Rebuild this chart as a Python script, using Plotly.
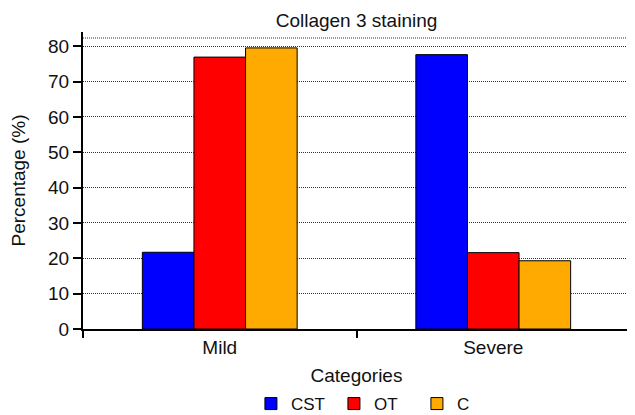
import plotly.graph_objects as go

categories = ["Mild", "Severe"]
series_names = ["CST", "OT", "C"]
cst = [21.7, 77.6]
ot = [76.9, 21.6]
c = [79.5, 19.3]
colors = ["#0000ff", "#ff0000", "#ffaa00"]
yticks = [0, 10, 20, 30, 40, 50, 60, 70, 80]
top_grid_value = 82.3

fig = go.Figure()
for name, vals, col in zip(series_names, [cst, ot, c], colors):
    fig.add_trace(go.Bar(x=categories, y=vals, name=name, marker_color=col,
                         marker_line_color="#000000", marker_line_width=1))

fig.update_layout(
    width=627, height=407,
    margin=dict(l=75, r=5, t=24, b=86, autoexpand=False),
    paper_bgcolor="white", plot_bgcolor="white",
    font=dict(family="Liberation Sans, Arial, sans-serif", size=19, color="#111"),
    title=dict(text="Collagen 3 staining", x=0.5, xref="paper", xanchor="center",
               y=1, yref="container", yanchor="top", pad=dict(t=6), font=dict(size=19)),
    barmode="group", bargap=0.434, bargroupgap=0,
    showlegend=True,
    legend=dict(orientation="h", x=0.307, xanchor="left", y=-0.192, yanchor="top",
                font=dict(size=17), traceorder="normal",
                entrywidth=38, entrywidthmode="pixels"),
    xaxis=dict(title=dict(text="Categories", standoff=12, font=dict(size=19)),
               showline=True, linecolor="black", linewidth=2,
               ticks="outside", tickson="boundaries", ticklen=7, tickwidth=2, tickcolor="black",
               ticklabelstandoff=0, showgrid=False, automargin=False),
    yaxis=dict(title=dict(text="Percentage (%)", standoff=19, font=dict(size=19)),
               range=[0, 84.0], tickvals=yticks,
               showline=True, linecolor="black", linewidth=2, ticks="outside", ticklen=8,
               tickwidth=2, tickcolor="black", showgrid=True, gridcolor="#333",
               griddash="1px,1px", gridwidth=1, zeroline=False, automargin=False),
)
fig.add_shape(type="line", xref="paper", yref="y", x0=0, x1=1.005, y0=top_grid_value, y1=top_grid_value,
              line=dict(color="#333", width=1, dash="1px,1px"))
fig.write_html("out.html")
